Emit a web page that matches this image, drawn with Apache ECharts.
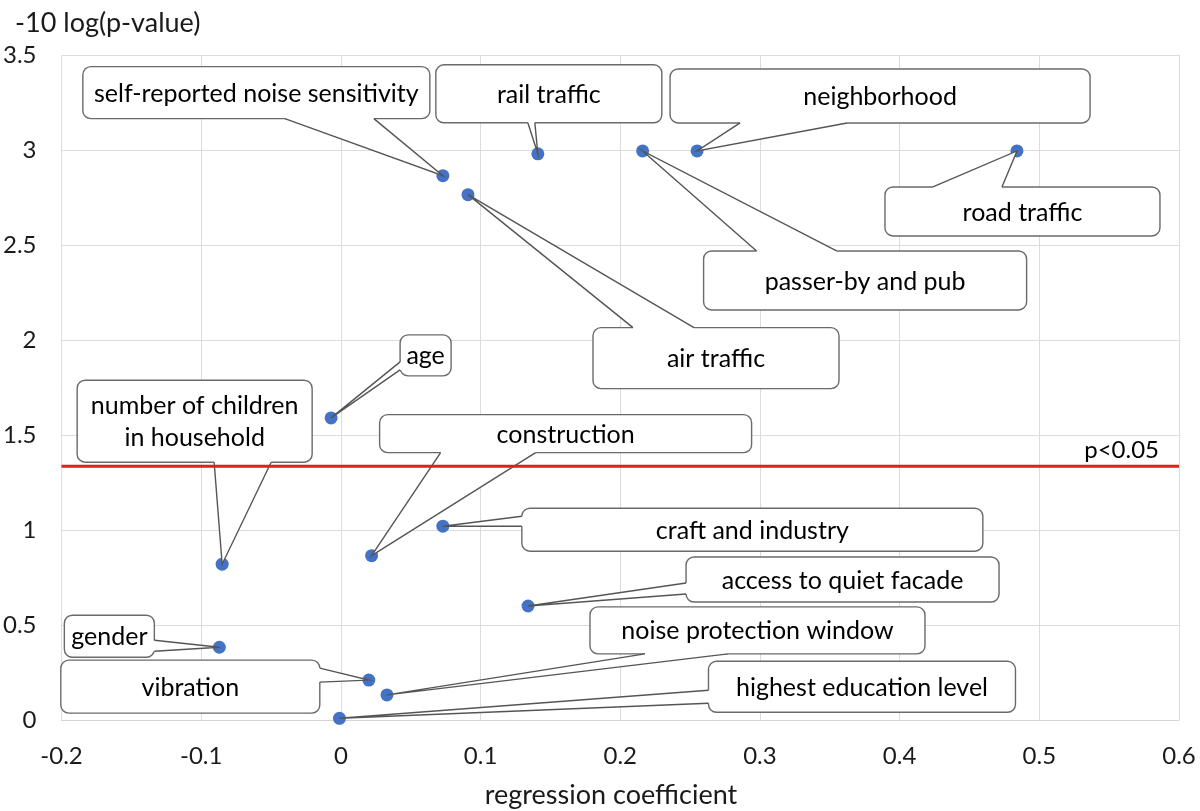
<!DOCTYPE html>
<html>
<head>
<meta charset="utf-8">
<script src="https://cdn.jsdelivr.net/npm/echarts@6/dist/echarts.min.js"></script>
<style>
html,body{margin:0;padding:0;background:#fff;}
#chart{width:1200px;height:811px;}
</style>
</head>
<body>
<div id="chart"></div>
<script>
// ---------- data ----------
const labels = [
  "self-reported noise sensitivity",
  "rail traffic",
  "neighborhood",
  "road traffic",
  "passer-by and pub",
  "air traffic",
  "age",
  "number of children\nin household",
  "construction",
  "craft and industry",
  "access to quiet facade",
  "gender",
  "vibration",
  "noise protection window",
  "highest education level"
];
const coef = [0.073, 0.141, 0.255, 0.484, 0.216, 0.091, -0.007, -0.085, 0.022, 0.073, 0.134, -0.087, 0.020, 0.033, -0.001];
const logp = [2.865, 2.98, 2.995, 2.995, 2.995, 2.765, 1.59, 0.82, 0.865, 1.02, 0.60, 0.383, 0.21, 0.132, 0.009];
const threshold = 1.335;
const thresholdLabel = "p<0.05";
const xTitle = "regression coefficient";
const yTitle = "-10 log(p-value)";

// ---------- callout layout (pixel offsets of each box relative to its point) ----------
// dx,dy: box top-left relative to point; w,h: box size; side: edge carrying the pointer; a,b: pointer base along that edge
const calloutLayout = [
  {dx:-360, dy:-109, w:347, h:52, side:'bottom', a:202, b:291},
  {dx:-102, dy:-89,  w:226, h:58, side:'bottom', a:92,  b:99},
  {dx:-27,  dy:-82,  w:420, h:54, side:'bottom', a:70,  b:177},
  {dx:-132, dy:36,   w:275, h:49, side:'top',    a:48,  b:117},
  {dx:61,   dy:100,  w:323, h:59, side:'top',    a:53,  b:133},
  {dx:125,  dy:133,  w:246, h:61, side:'top',    a:40,  b:101},
  {dx:69,   dy:-83,  w:51,  h:41, side:'left',   a:27,  b:35},
  {dx:-145, dy:-184, w:235, h:82, side:'bottom', a:137, b:194},
  {dx:8,    dy:-141, w:372, h:38, side:'bottom', a:61,  b:156},
  {dx:79,   dy:-18,  w:461, h:43, side:'left',   a:8,   b:18},
  {dx:158,  dy:-49,  w:313, h:45, side:'left',   a:26,  b:37},
  {dx:-155, dy:-32,  w:90,  h:42, side:'right',  a:25,  b:36},
  {dx:-308, dy:-20,  w:259, h:53, side:'right',  a:8,   b:22},
  {dx:203,  dy:-88,  w:335, h:47, side:'bottom', a:55,  b:138},
  {dx:369,  dy:-57,  w:307, h:51, side:'left',   a:29,  b:42}
];

const FONT = 'Lato';
const points = coef.map((c, i) => [c, logp[i]]);

function renderCallout(params, api) {
  const i = params.dataIndex;
  const p = api.coord([api.value(0), api.value(1)]);
  const L = calloutLayout[i];
  const x0 = p[0] + L.dx, y0 = p[1] + L.dy, w = L.w, h = L.h;
  let b1, b2, c1, c2;
  const k = 2.5;
  if (L.side === 'bottom') {
    b1 = [x0 + L.a, y0 + h]; b2 = [x0 + L.b, y0 + h];
    c1 = [x0 + L.a, y0 + h - k]; c2 = [x0 + L.b, y0 + h - k];
  } else if (L.side === 'top') {
    b1 = [x0 + L.a, y0]; b2 = [x0 + L.b, y0];
    c1 = [x0 + L.a, y0 + k]; c2 = [x0 + L.b, y0 + k];
  } else if (L.side === 'left') {
    b1 = [x0, y0 + L.a]; b2 = [x0, y0 + L.b];
    c1 = [x0 + k, y0 + L.a]; c2 = [x0 + k, y0 + L.b];
  } else {
    b1 = [x0 + w, y0 + L.a]; b2 = [x0 + w, y0 + L.b];
    c1 = [x0 + w - k, y0 + L.a]; c2 = [x0 + w - k, y0 + L.b];
  }
  const stroke = '#6a6a6a';
  return {
    type: 'group',
    children: [
      {type: 'rect', shape: {x: x0, y: y0, width: w, height: h, r: 8},
       style: {fill: '#ffffff', stroke: stroke, lineWidth: 1.4}},
      {type: 'polygon', shape: {points: [c1, b1, p, b2, c2]},
       style: {fill: '#ffffff', stroke: null}},
      {type: 'polyline', shape: {points: [b1, p, b2]},
       style: {fill: null, stroke: '#555555', lineWidth: 1.4}},
      {type: 'text',
       style: {text: labels[i], x: x0 + w / 2, y: y0 + h / 2 + 1,
               align: 'center', verticalAlign: 'middle',
               textAlign: 'center', textVerticalAlign: 'middle',
               fontSize: 25, fontFamily: FONT, lineHeight: 32, fill: '#000000'}}
    ]
  };
}

const chart = echarts.init(document.getElementById('chart'), null, {renderer: 'canvas'});
chart.setOption({
  animation: false,
  backgroundColor: '#ffffff',
  grid: {left: 61, right: 21, top: 55, bottom: 91},
  xAxis: {
    type: 'value', min: -0.2, max: 0.6, interval: 0.1,
    axisLine: {show: true, lineStyle: {color: '#d4d4d4', width: 1}},
    axisTick: {show: false},
    splitLine: {show: true, lineStyle: {color: '#dcdcdc', width: 1}},
    axisLabel: {fontSize: 24, fontFamily: FONT, color: '#1a1a1a', margin: 24,
                formatter: v => String(Math.round(v * 10) / 10)}
  },
  yAxis: {
    type: 'value', min: 0, max: 3.5, interval: 0.5,
    axisLine: {show: false},
    axisTick: {show: false},
    splitLine: {show: true, lineStyle: {color: '#dcdcdc', width: 1}},
    axisLabel: {fontSize: 24, fontFamily: FONT, color: '#1a1a1a', margin: 25,
                formatter: v => String(Math.round(v * 10) / 10)}
  },
  graphic: [
    {type: 'text', x: 15, y: 23,
     style: {text: yTitle, fontSize: 27, fontFamily: FONT, fill: '#1a1a1a',
             align: 'left', verticalAlign: 'middle', textAlign: 'left', textVerticalAlign: 'middle'}},
    {type: 'text', x: 611, y: 795,
     style: {text: xTitle, fontSize: 27, fontFamily: FONT, fill: '#1a1a1a',
             align: 'center', verticalAlign: 'middle', textAlign: 'center', textVerticalAlign: 'middle'}}
  ],
  series: [
    {
      type: 'scatter', z: 2, data: points, symbol: 'circle', symbolSize: 13,
      itemStyle: {color: '#4472c4', opacity: 1}
    },
    {
      type: 'custom', z: 3, clip: false, data: points,
      encode: {x: 0, y: 1},
      renderItem: renderCallout
    },
    {
      type: 'line', z: 5, data: [[-0.2, threshold], [0.6, threshold]],
      symbol: 'none', lineStyle: {color: '#e0201e', width: 3},
      markPoint: {
        symbol: 'rect', symbolSize: 0,
        data: [{coord: [0.6, threshold],
                label: {show: true, formatter: thresholdLabel, position: 'insideTopRight',
                        fontSize: 24, fontFamily: FONT, color: '#000', offset: [-15, -33]}}]
      }
    }
  ]
});
</script>
</body>
</html>
